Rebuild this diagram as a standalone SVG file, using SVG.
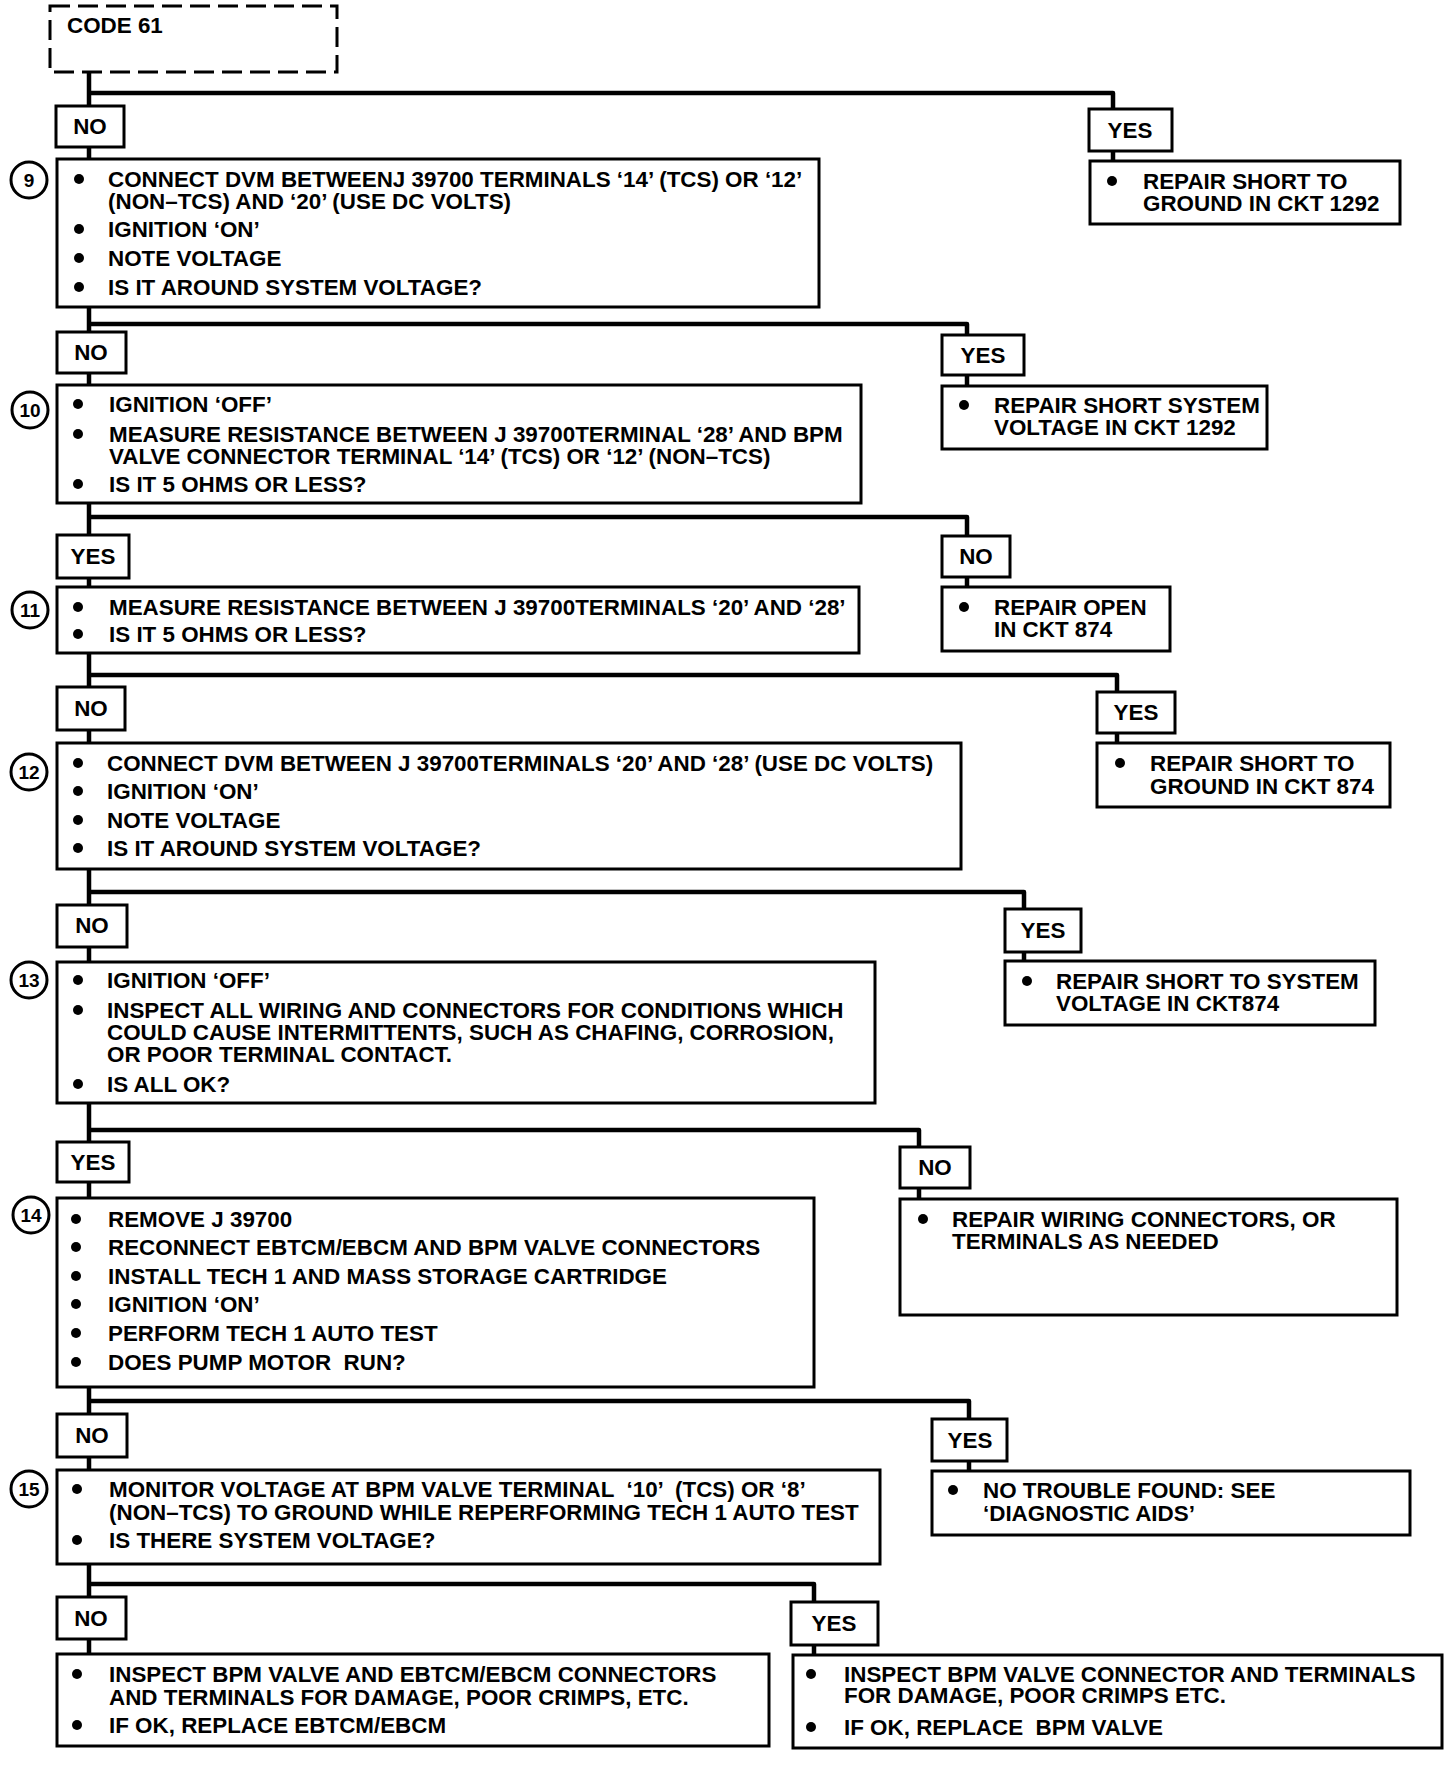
<svg xmlns="http://www.w3.org/2000/svg" width="1456" height="1776" viewBox="0 0 1456 1776">
<style>
.bx{fill:#fff;stroke:#000;stroke-width:3}
.lb{fill:#fff;stroke:#000;stroke-width:3}
.dash{fill:#fff;stroke:#000;stroke-width:3;stroke-dasharray:20 8}
.cn{fill:none;stroke:#000;stroke-width:4.5;stroke-linejoin:round}
.t{font-family:"Liberation Sans",Arial,Helvetica,sans-serif;font-weight:bold;font-size:22.4px;fill:#000}
.lt{font-family:"Liberation Sans",Arial,Helvetica,sans-serif;font-weight:bold;font-size:22.4px;fill:#000;text-anchor:middle}
.num{font-family:"Liberation Sans",Arial,Helvetica,sans-serif;font-weight:bold;font-size:19px;fill:#000;text-anchor:middle}
.ci{fill:#fff;stroke:#000;stroke-width:3}
.b{fill:#000}
</style>
<rect width="1456" height="1776" fill="#fff"/>
<g id="connectors">
<path class="cn" d="M89,72 V106 M89,93 H1113 V109 M1113,151 V161 M89,147 V159"/>
<path class="cn" d="M89,307 V332 M89,324 H967 V335 M967,375 V386 M89,373 V385"/>
<path class="cn" d="M89,503 V535 M89,517 H967 V536 M967,577 V587 M89,578 V587"/>
<path class="cn" d="M89,653 V687 M89,675 H1117 V692 M1117,733 V743 M89,730 V743"/>
<path class="cn" d="M89,869 V905 M89,892 H1024 V909 M1024,952 V961 M89,947 V962"/>
<path class="cn" d="M89,1103 V1142 M89,1130 H919 V1147 M919,1188 V1199 M89,1182 V1198"/>
<path class="cn" d="M89,1387 V1414 M89,1401 H969 V1419 M969,1461 V1471 M89,1457 V1470"/>
<path class="cn" d="M89,1564 V1597 M89,1584 H814 V1602 M814,1645 V1655 M89,1639 V1654"/>
</g>
<g id="code61">
<rect class="dash" x="50" y="6" width="287" height="66"/>
<text class="t" x="67" y="33">CODE 61</text>
</g>
<g id="no1"><rect class="lb" x="56" y="106" width="68" height="41"/><text class="lt" x="90" y="134">NO</text></g>
<g id="yes1"><rect class="lb" x="1089" y="109" width="83" height="42"/><text class="lt" x="1130" y="138">YES</text></g>
<g id="r1">
<rect class="bx" x="1090" y="161" width="310" height="63"/>
<circle class="b" cx="1112" cy="181" r="5"/>
<text class="t" x="1143" y="189">REPAIR SHORT TO</text>
<text class="t" x="1143" y="211">GROUND IN CKT 1292</text>
</g>
<g id="step9">
<rect class="bx" x="57" y="159" width="762" height="148"/>
<circle class="ci" cx="29" cy="180" r="18"/><text class="num" x="29" y="187">9</text>
<circle class="b" cx="79" cy="179" r="5"/>
<text class="t" x="108" y="187">CONNECT DVM BETWEENJ 39700 TERMINALS ‘14’ (TCS) OR ‘12’</text>
<text class="t" x="108" y="209">(NON–TCS) AND ‘20’ (USE DC VOLTS)</text>
<circle class="b" cx="79" cy="229" r="5"/>
<text class="t" x="108" y="237">IGNITION ‘ON’</text>
<circle class="b" cx="79" cy="258" r="5"/>
<text class="t" x="108" y="266">NOTE VOLTAGE</text>
<circle class="b" cx="79" cy="287" r="5"/>
<text class="t" x="108" y="295">IS IT AROUND SYSTEM VOLTAGE?</text>
</g>
<g id="no2"><rect class="lb" x="57" y="332" width="69" height="41"/><text class="lt" x="91" y="360">NO</text></g>
<g id="yes2"><rect class="lb" x="942" y="335" width="82" height="40"/><text class="lt" x="983" y="363">YES</text></g>
<g id="r2">
<rect class="bx" x="942" y="386" width="325" height="63"/>
<circle class="b" cx="964" cy="405" r="5"/>
<text class="t" x="994" y="413">REPAIR SHORT SYSTEM</text>
<text class="t" x="994" y="435">VOLTAGE IN CKT 1292</text>
</g>
<g id="step10">
<rect class="bx" x="57" y="385" width="804" height="118"/>
<circle class="ci" cx="30" cy="410" r="18"/><text class="num" x="30" y="417">10</text>
<circle class="b" cx="78" cy="404" r="5"/>
<text class="t" x="109" y="412">IGNITION ‘OFF’</text>
<circle class="b" cx="78" cy="434" r="5"/>
<text class="t" x="109" y="442">MEASURE RESISTANCE BETWEEN J 39700TERMINAL ‘28’ AND BPM</text>
<text class="t" x="109" y="464">VALVE CONNECTOR TERMINAL ‘14’ (TCS) OR ‘12’ (NON–TCS)</text>
<circle class="b" cx="78" cy="484" r="5"/>
<text class="t" x="109" y="492">IS IT 5 OHMS OR LESS?</text>
</g>
<g id="yes3"><rect class="lb" x="57" y="535" width="72" height="43"/><text class="lt" x="93" y="564">YES</text></g>
<g id="no3"><rect class="lb" x="942" y="536" width="68" height="41"/><text class="lt" x="976" y="564">NO</text></g>
<g id="r3">
<rect class="bx" x="942" y="587" width="228" height="64"/>
<circle class="b" cx="964" cy="607" r="5"/>
<text class="t" x="994" y="615">REPAIR OPEN</text>
<text class="t" x="994" y="637">IN CKT 874</text>
</g>
<g id="step11">
<rect class="bx" x="57" y="587" width="802" height="66"/>
<circle class="ci" cx="30" cy="610" r="18"/><text class="num" x="30" y="617">11</text>
<circle class="b" cx="78" cy="607" r="5"/>
<text class="t" x="109" y="615">MEASURE RESISTANCE BETWEEN J 39700TERMINALS ‘20’ AND ‘28’</text>
<circle class="b" cx="78" cy="634" r="5"/>
<text class="t" x="109" y="642">IS IT 5 OHMS OR LESS?</text>
</g>
<g id="no4"><rect class="lb" x="57" y="687" width="68" height="43"/><text class="lt" x="91" y="716">NO</text></g>
<g id="yes4"><rect class="lb" x="1097" y="692" width="78" height="41"/><text class="lt" x="1136" y="720">YES</text></g>
<g id="r4">
<rect class="bx" x="1097" y="743" width="293" height="64"/>
<circle class="b" cx="1120" cy="763" r="5"/>
<text class="t" x="1150" y="771">REPAIR SHORT TO</text>
<text class="t" x="1150" y="794">GROUND IN CKT 874</text>
</g>
<g id="step12">
<rect class="bx" x="57" y="743" width="904" height="126"/>
<circle class="ci" cx="29" cy="772" r="18"/><text class="num" x="29" y="779">12</text>
<circle class="b" cx="78" cy="763" r="5"/>
<text class="t" x="107" y="771">CONNECT DVM BETWEEN J 39700TERMINALS ‘20’ AND ‘28’ (USE DC VOLTS)</text>
<circle class="b" cx="78" cy="791" r="5"/>
<text class="t" x="107" y="799">IGNITION ‘ON’</text>
<circle class="b" cx="78" cy="820" r="5"/>
<text class="t" x="107" y="828">NOTE VOLTAGE</text>
<circle class="b" cx="78" cy="848" r="5"/>
<text class="t" x="107" y="856">IS IT AROUND SYSTEM VOLTAGE?</text>
</g>
<g id="no5"><rect class="lb" x="57" y="905" width="70" height="42"/><text class="lt" x="92" y="933">NO</text></g>
<g id="yes5"><rect class="lb" x="1005" y="909" width="76" height="43"/><text class="lt" x="1043" y="938">YES</text></g>
<g id="r5">
<rect class="bx" x="1005" y="961" width="370" height="64"/>
<circle class="b" cx="1027" cy="981" r="5"/>
<text class="t" x="1056" y="989">REPAIR SHORT TO SYSTEM</text>
<text class="t" x="1056" y="1011">VOLTAGE IN CKT874</text>
</g>
<g id="step13">
<rect class="bx" x="57" y="962" width="818" height="141"/>
<circle class="ci" cx="29" cy="980" r="18"/><text class="num" x="29" y="987">13</text>
<circle class="b" cx="78" cy="980" r="5"/>
<text class="t" x="107" y="988">IGNITION ‘OFF’</text>
<circle class="b" cx="78" cy="1010" r="5"/>
<text class="t" x="107" y="1018">INSPECT ALL WIRING AND CONNECTORS FOR CONDITIONS WHICH</text>
<text class="t" x="107" y="1040">COULD CAUSE INTERMITTENTS, SUCH AS CHAFING, CORROSION,</text>
<text class="t" x="107" y="1062">OR POOR TERMINAL CONTACT.</text>
<circle class="b" cx="78" cy="1084" r="5"/>
<text class="t" x="107" y="1092">IS ALL OK?</text>
</g>
<g id="yes6"><rect class="lb" x="57" y="1142" width="72" height="40"/><text class="lt" x="93" y="1170">YES</text></g>
<g id="no6"><rect class="lb" x="900" y="1147" width="70" height="41"/><text class="lt" x="935" y="1175">NO</text></g>
<g id="r6">
<rect class="bx" x="900" y="1199" width="497" height="116"/>
<circle class="b" cx="923" cy="1219" r="5"/>
<text class="t" x="952" y="1227">REPAIR WIRING CONNECTORS, OR</text>
<text class="t" x="952" y="1249">TERMINALS AS NEEDED</text>
</g>
<g id="step14">
<rect class="bx" x="57" y="1198" width="757" height="189"/>
<circle class="ci" cx="31" cy="1215" r="18"/><text class="num" x="31" y="1222">14</text>
<circle class="b" cx="76" cy="1219" r="5"/>
<text class="t" x="108" y="1227">REMOVE J 39700</text>
<circle class="b" cx="76" cy="1247" r="5"/>
<text class="t" x="108" y="1255">RECONNECT EBTCM/EBCM AND BPM VALVE CONNECTORS</text>
<circle class="b" cx="76" cy="1276" r="5"/>
<text class="t" x="108" y="1284">INSTALL TECH 1 AND MASS STORAGE CARTRIDGE</text>
<circle class="b" cx="76" cy="1304" r="5"/>
<text class="t" x="108" y="1312">IGNITION ‘ON’</text>
<circle class="b" cx="76" cy="1333" r="5"/>
<text class="t" x="108" y="1341">PERFORM TECH 1 AUTO TEST</text>
<circle class="b" cx="76" cy="1362" r="5"/>
<text class="t" x="108" y="1370" xml:space="preserve">DOES PUMP MOTOR  RUN?</text>
</g>
<g id="no7"><rect class="lb" x="57" y="1414" width="70" height="43"/><text class="lt" x="92" y="1443">NO</text></g>
<g id="yes7"><rect class="lb" x="932" y="1419" width="75" height="42"/><text class="lt" x="970" y="1448">YES</text></g>
<g id="r7">
<rect class="bx" x="932" y="1471" width="478" height="64"/>
<circle class="b" cx="953" cy="1490" r="5"/>
<text class="t" x="983" y="1498">NO TROUBLE FOUND: SEE</text>
<text class="t" x="983" y="1521">‘DIAGNOSTIC AIDS’</text>
</g>
<g id="step15">
<rect class="bx" x="57" y="1470" width="823" height="94"/>
<circle class="ci" cx="29" cy="1489" r="18"/><text class="num" x="29" y="1496">15</text>
<circle class="b" cx="77" cy="1489" r="5"/>
<text class="t" x="109" y="1497" xml:space="preserve">MONITOR VOLTAGE AT BPM VALVE TERMINAL  ‘10’  (TCS) OR ‘8’</text>
<text class="t" x="109" y="1520">(NON–TCS) TO GROUND WHILE REPERFORMING TECH 1 AUTO TEST</text>
<circle class="b" cx="77" cy="1540" r="5"/>
<text class="t" x="109" y="1548">IS THERE SYSTEM VOLTAGE?</text>
</g>
<g id="no8"><rect class="lb" x="57" y="1597" width="69" height="42"/><text class="lt" x="91" y="1626">NO</text></g>
<g id="yes8"><rect class="lb" x="791" y="1602" width="87" height="43"/><text class="lt" x="834" y="1631">YES</text></g>
<g id="bl">
<rect class="bx" x="57" y="1654" width="712" height="92"/>
<circle class="b" cx="77" cy="1674" r="5"/>
<text class="t" x="109" y="1682">INSPECT BPM VALVE AND EBTCM/EBCM CONNECTORS</text>
<text class="t" x="109" y="1705">AND TERMINALS FOR DAMAGE, POOR CRIMPS, ETC.</text>
<circle class="b" cx="77" cy="1725" r="5"/>
<text class="t" x="109" y="1733">IF OK, REPLACE EBTCM/EBCM</text>
</g>
<g id="br">
<rect class="bx" x="793" y="1655" width="649" height="93"/>
<circle class="b" cx="811" cy="1674" r="5"/>
<text class="t" x="844" y="1682">INSPECT BPM VALVE CONNECTOR AND TERMINALS</text>
<text class="t" x="844" y="1703">FOR DAMAGE, POOR CRIMPS ETC.</text>
<circle class="b" cx="811" cy="1727" r="5"/>
<text class="t" x="844" y="1735" xml:space="preserve">IF OK, REPLACE  BPM VALVE</text>
</g>
</svg>
